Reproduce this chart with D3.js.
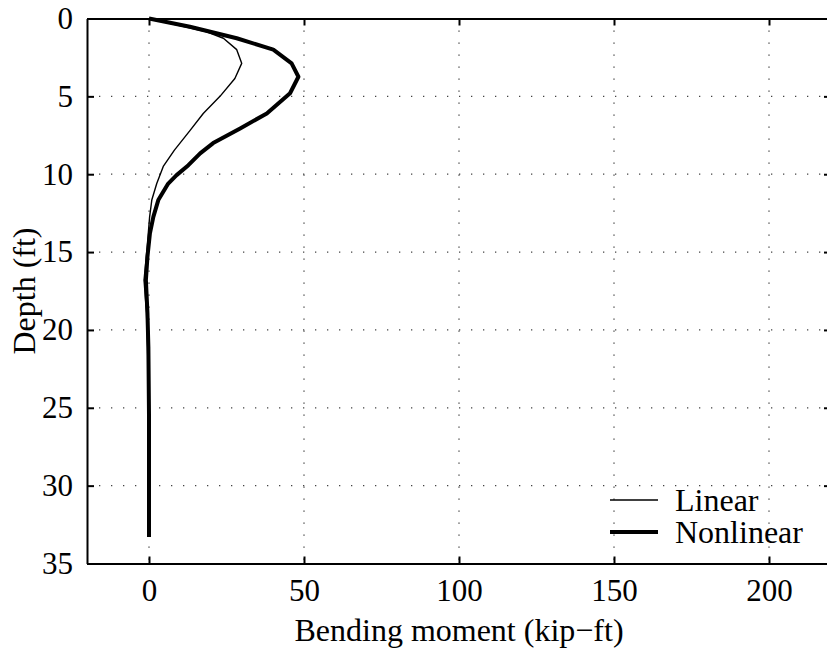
<!DOCTYPE html>
<meta charset="utf-8">
<style>
body { margin: 0; background: #fff; }
svg { display: block; }
text { font-family: "Liberation Serif", "Times New Roman", serif; fill: #000; }
.grid line { stroke: #444; stroke-width: 1.3; stroke-dasharray: 1.3, 10.7; }
</style>
<body>
<script src="https://d3js.org/d3.v7.min.js"></script>
<script>

// depth (ft) and bending moment (kip-ft)
const linearDepth  = [0, 0.85, 1.27, 2.0, 2.88, 3.85, 5.0, 6.1, 7.2, 8.45, 9.5, 10.6, 11.66, 12.74, 14.7, 16.8, 18.9, 23.2, 33.3];
const linearMoment = [0, 18.6, 24.0, 28.3, 29.9, 27.7, 22.9, 17.5, 13.2, 8.2, 4.6, 2.5, 0.9, 0.2, -0.6, -1.6, -0.8, -0.2, 0];

const nonlinDepth  = [0, 0.53, 1.27, 2.0, 2.88, 3.74, 4.8, 6.1, 7.06, 8.0, 8.66, 9.42, 10.06, 10.6, 11.66, 12.74, 13.8, 15.3, 16.8, 18.9, 21.1, 25.4, 33.3];
const nonlinMoment = [0, 13.2, 28.3, 40.1, 46.0, 48.2, 45.5, 38.0, 29.4, 20.7, 16.5, 12.7, 8.9, 6.2, 3.0, 1.4, 0.3, -0.5, -1.0, -0.5, -0.2, 0, 0];

const xTicks = [0, 50, 100, 150, 200];
const yTicks = [0, 5, 10, 15, 20, 25, 30, 35];
const seriesNames = ["Linear", "Nonlinear"];

var W = 827, H = 649;
var mLeft = 87, mRight = 831, mTop = 18.5, mBottom = 563.5;

var x = d3.scaleLinear().domain([-20, 220]).range([mLeft, mRight]);
var y = d3.scaleLinear().domain([0, 35]).range([mTop, mBottom]);

var svg = d3.select("body").append("svg")
    .attr("width", W)
    .attr("height", H);

// dotted grid
var grid = svg.append("g").attr("class", "grid");
grid.selectAll(".gx")
    .data(xTicks)
  .enter().append("line")
    .attr("x1", d => x(d)).attr("x2", d => x(d))
    .attr("y1", mTop).attr("y2", mBottom);
grid.selectAll(".gy")
    .data(yTicks.slice(1, -1))
  .enter().append("line")
    .attr("y1", d => y(d)).attr("y2", d => y(d))
    .attr("x1", mLeft).attr("x2", mRight);

// axes with inward ticks
var tickLen = 7;
svg.append("g")
    .attr("transform", "translate(0," + mBottom + ")")
    .call(d3.axisBottom(x).tickValues(xTicks).tickSizeInner(-tickLen).tickSizeOuter(0).tickPadding(15))
    .call(g => g.selectAll("text").style("font-size", "31px").attr("dy", "0.71em"));
svg.append("g")
    .attr("transform", "translate(0," + mTop + ")")
    .call(d3.axisTop(x).tickValues(xTicks).tickSizeInner(-tickLen).tickSizeOuter(0).tickFormat(""));
svg.append("g")
    .attr("transform", "translate(" + mLeft + ",0)")
    .call(d3.axisLeft(y).tickValues(yTicks).tickSizeInner(-tickLen).tickSizeOuter(0).tickPadding(14))
    .call(g => g.selectAll("text").style("font-size", "31px"));
svg.append("g")
    .attr("transform", "translate(" + mRight + ",0)")
    .call(d3.axisRight(y).tickValues(yTicks).tickSizeInner(-tickLen).tickSizeOuter(0).tickFormat(""));

svg.selectAll(".domain").attr("stroke", "#000").attr("stroke-width", 2);
svg.selectAll(".tick line").attr("stroke", "#000").attr("stroke-width", 2);

// curves
var line = d3.line()
    .x(d => x(d[1]))
    .y(d => y(d[0]));

svg.append("path")
    .datum(d3.zip(linearDepth, linearMoment))
    .attr("fill", "none")
    .attr("stroke", "#000")
    .attr("stroke-width", 1.4)
    .attr("stroke-linejoin", "round")
    .attr("d", line);

svg.append("path")
    .datum(d3.zip(nonlinDepth, nonlinMoment))
    .attr("fill", "none")
    .attr("stroke", "#000")
    .attr("stroke-width", 4)
    .attr("stroke-linejoin", "round")
    .attr("d", line);

// legend
var legend = svg.selectAll(".legend")
    .data(seriesNames)
  .enter().append("g")
    .attr("class", "legend")
    .attr("transform", (d, i) => "translate(610," + (500 + i * 32) + ")");
legend.append("line")
    .attr("x1", 0).attr("x2", 48)
    .attr("stroke", "#000")
    .attr("stroke-width", (d, i) => i ? 4 : 1.4);
legend.append("text")
    .attr("x", 65)
    .attr("dy", "0.35em")
    .style("font-size", "32px")
    .text(d => d);

// axis labels
svg.append("text")
    .attr("x", (mLeft + mRight) / 2)
    .attr("y", 641)
    .attr("text-anchor", "middle")
    .style("font-size", "32px")
    .text("Bending moment (kip\u2212ft)");

svg.append("text")
    .attr("transform", "translate(35," + (mTop + mBottom) / 2 + ") rotate(-90)")
    .attr("text-anchor", "middle")
    .style("font-size", "32px")
    .text("Depth (ft)");

</script>
</body>
